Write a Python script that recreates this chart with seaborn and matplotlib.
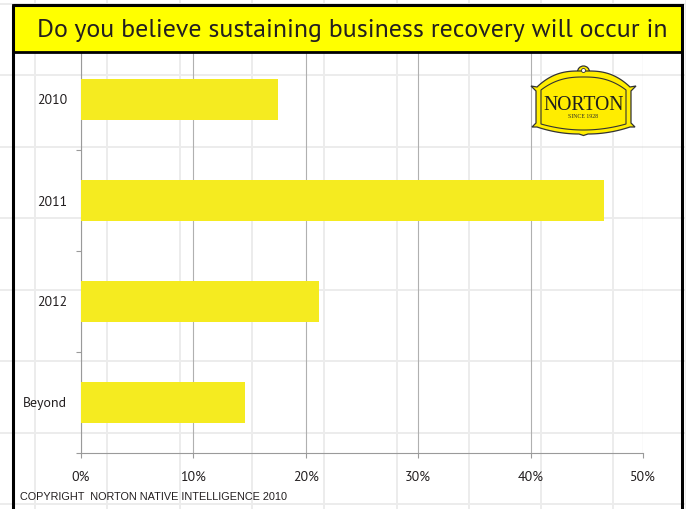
import numpy as np
import pandas as pd
import matplotlib
matplotlib.use("Agg")
import matplotlib.pyplot as plt
import seaborn as sns
from matplotlib.patches import Rectangle, Polygon, Circle

# ---- data ----
categories = ["2010", "2011", "2012", "Beyond"]
values = [17.5, 46.5, 21.2, 14.6]          # percent of respondents
x_ticks = [0, 10, 20, 30, 40, 50]
x_tick_labels = ["0%", "10%", "20%", "30%", "40%", "50%"]
title = "Do you believe sustaining business recovery will occur in"
copyright_text = "COPYRIGHT  NORTON NATIVE INTELLIGENCE 2010"

df = pd.DataFrame({"when": categories, "share": values})

W, H = 686, 509
fig = plt.figure(figsize=(W / 100, H / 100), dpi=100)
fig.patch.set_facecolor("white")
TXT = "#231f20"

def fit_width(t, target):
    r = fig.canvas.get_renderer()
    w = t.get_window_extent(r).width
    t.set_fontsize(t.get_fontsize() * target / w)

# ---- spreadsheet grid behind everything ----
bg = fig.add_axes([0, 0, 1, 1], zorder=0)
bg.set_xlim(0, W); bg.set_ylim(H, 0); bg.axis("off")
for x in np.arange(35, W, 72.3):
    bg.axvline(x, color="#ececec", lw=1.4)
for y in np.arange(3.5, H, 71.5):
    bg.axhline(y, color="#ececec", lw=1.4)

# ---- main chart ----
ax = fig.add_axes([81 / W, (H - 453) / H, 562 / W, 404 / H], zorder=1)
ax.patch.set_alpha(0)
sns.barplot(data=df, x="share", y="when", orient="h", color="#f5eb20",
            saturation=1, width=0.4, linewidth=0, ax=ax, zorder=3)
ax.set_xlim(0, 50)
ax.set_ylim(3.5, -0.5)
ax.set_xticks(x_ticks)
ax.set_xticklabels(x_tick_labels, fontfamily="PT Sans", fontsize=10, color=TXT)
ax.set_yticks(range(len(categories)))
ax.set_yticklabels(categories, fontfamily="PT Sans", fontsize=10, color=TXT)
ax.set_yticks([0.5, 1.5, 2.5, 3.5], minor=True)
ax.tick_params(axis="y", which="major", length=0, pad=10)
ax.tick_params(axis="y", which="minor", length=3.6, width=0.8, color="#9a9a9a")
ax.tick_params(axis="x", which="major", length=3.6, width=0.8, color="#9a9a9a", pad=9)
ax.grid(axis="x", color="#b0b0b0", lw=0.8, zorder=1)
ax.grid(axis="y", visible=False)
ax.set_axisbelow(True)
for s in ["top", "right"]:
    ax.spines[s].set_visible(False)
for s in ["left", "bottom"]:
    ax.spines[s].set_color("#9a9a9a")
    ax.spines[s].set_linewidth(0.8)
ax.set_xlabel("")
ax.set_ylabel("")

# ---- overlay: frame, title box, copyright, logo ----
ov = fig.add_axes([0, 0, 1, 1], zorder=2)
ov.set_xlim(0, W); ov.set_ylim(H, 0); ov.axis("off"); ov.patch.set_alpha(0)
ov.add_patch(Rectangle((13, 5), 669, 47, facecolor="#ffff00", edgecolor="black", lw=2.0))
ov.add_patch(Rectangle((13, 5), 669, 540, fill=False, edgecolor="black", lw=2.2, clip_on=False))
t = ov.text(352.5, 36.5, title, ha="center", va="baseline", fontfamily="PT Sans",
            fontsize=17, color=TXT)
fit_width(t, 631)
c = ov.text(20, 497, copyright_text, ha="left", va="center", fontfamily="Liberation Sans",
            fontsize=7, color=TXT)
fit_width(c, 266)

# Norton sign (decorative logo)
cx = 583.5
tt = np.linspace(0, 1, 50)
xl = 537 + (579 - 537) * tt
top_l = np.column_stack([xl, 71 + 16 * (1 - tt) ** 2.5])
top_r = np.column_stack([2 * cx - top_l[::-1, 0], top_l[::-1, 1]])
bot_r = np.column_stack([2 * cx - xl, 134 - 7 * (1 - tt) ** 2])
bot_l = np.column_stack([xl, 134 - 7 * (1 - tt) ** 2])[::-1]
outline = np.vstack([[[531, 86]], top_l, top_r,
                     [[636, 86], [631, 91], [631, 123], [635, 127]],
                     bot_r, [[cx, 135.5]], bot_l,
                     [[532, 127], [536, 123], [536, 91]]])
ov.add_patch(Circle((cx, 72), 6.0, facecolor="#ffed00", edgecolor="#333333", lw=0.9, zorder=4))
ov.add_patch(Polygon(outline, closed=True, facecolor="#ffed00", edgecolor="#333333", lw=0.9, zorder=5))
ov.add_patch(Circle((cx, 70.5), 2.0, facecolor="white", edgecolor="#333333", lw=0.6, zorder=6))
xi = 541 + (cx - 541) * tt
in_tl = np.column_stack([xi, 77 + 13 * (1 - tt) ** 2.5])
in_tr = np.column_stack([2 * cx - in_tl[::-1, 0], in_tl[::-1, 1]])
in_br = np.column_stack([2 * cx - xi, 130 - 6 * (1 - tt) ** 2])
in_bl = np.column_stack([xi, 130 - 6 * (1 - tt) ** 2])[::-1]
inner = np.vstack([in_tl, in_tr, in_br, in_bl])
ov.add_patch(Polygon(inner, closed=True, fill=False, edgecolor="#333333", lw=0.8, zorder=6))
n = ov.text(cx, 105, "NORTON", ha="center", va="center", fontfamily="Liberation Serif",
            fontsize=15, color="#1e1e1e", zorder=7)
fit_width(n, 81)
s2 = ov.text(cx, 116, "SINCE 1928", ha="center", va="center", fontfamily="Liberation Serif",
             fontsize=4, color="#2a2a2a", zorder=7)
fit_width(s2, 30)

fig.savefig("out.png", dpi=100)
